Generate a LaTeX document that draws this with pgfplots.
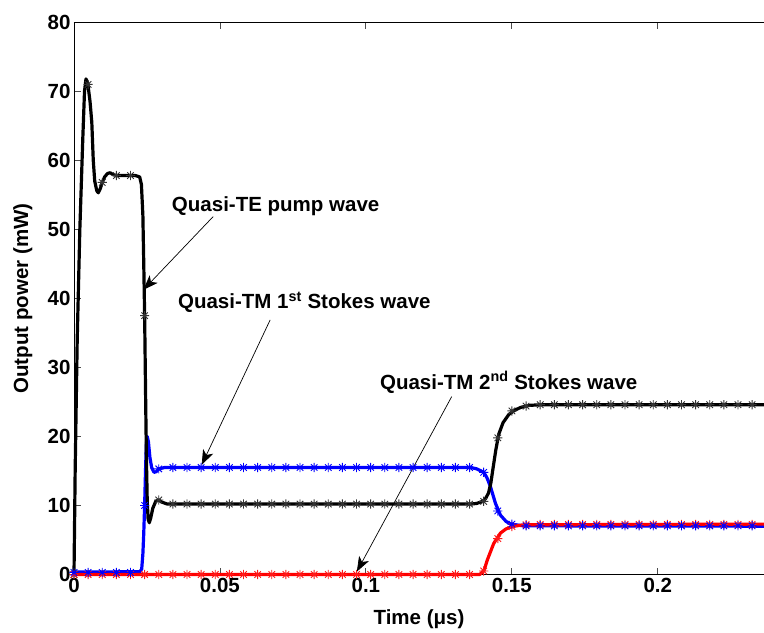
\documentclass[border=0pt]{standalone}
\usepackage{pgfplots}
\pgfplotsset{compat=1.18}
\usepackage{pgfplotstable}
\usepackage{fontspec}
\setmainfont{Liberation Sans}
\usetikzlibrary{arrows.meta}

\pgfdeclareplotmark{mstar}{%
  \pgfpathmoveto{\pgfqpoint{-\pgfplotmarksize}{0pt}}%
  \pgfpathlineto{\pgfqpoint{\pgfplotmarksize}{0pt}}%
  \pgfpathmoveto{\pgfqpoint{0pt}{-\pgfplotmarksize}}%
  \pgfpathlineto{\pgfqpoint{0pt}{\pgfplotmarksize}}%
  \pgfpathmoveto{\pgfqpoint{-0.707\pgfplotmarksize}{-0.707\pgfplotmarksize}}%
  \pgfpathlineto{\pgfqpoint{0.707\pgfplotmarksize}{0.707\pgfplotmarksize}}%
  \pgfpathmoveto{\pgfqpoint{-0.707\pgfplotmarksize}{0.707\pgfplotmarksize}}%
  \pgfpathlineto{\pgfqpoint{0.707\pgfplotmarksize}{-0.707\pgfplotmarksize}}%
  \pgfusepathqstroke}

\pgfplotstableread{
x te tm1 tm2
0 0 0.3 0
0.00484 71.0 0.3 0
0.00968 56.8 0.3 0
0.01452 57.8 0.3 0
0.01936 57.8 0.3 0
0.0242 37.5 10.0 0
0.02904 10.8 15.3 0
0.03388 10.2 15.5 0
0.03872 10.2 15.5 0
0.04356 10.2 15.5 0
0.0484 10.2 15.5 0
0.05324 10.2 15.5 0
0.05808 10.2 15.5 0
0.06292 10.2 15.5 0
0.06776 10.2 15.5 0
0.0726 10.2 15.5 0
0.07744 10.2 15.5 0
0.08228 10.2 15.5 0
0.08712 10.2 15.5 0
0.09196 10.2 15.5 0
0.0968 10.2 15.5 0
0.10164 10.2 15.5 0
0.10648 10.2 15.5 0
0.11132 10.2 15.5 0
0.11616 10.2 15.5 0
0.121 10.2 15.5 0
0.12584 10.2 15.5 0
0.13068 10.2 15.5 0
0.13552 10.2 15.5 0
0.14036 10.6 14.8 0.5
0.1452 19.8 9.2 5.2
0.15004 23.7 7.3 6.95
0.15488 24.4 7.05 7.2
0.15972 24.6 7.05 7.25
0.16456 24.6 7.05 7.25
0.1694 24.6 7.05 7.25
0.17424 24.6 7.05 7.25
0.17908 24.6 7.05 7.25
0.18392 24.6 7.05 7.25
0.18876 24.6 7.05 7.25
0.1936 24.6 7.05 7.25
0.19844 24.6 7.05 7.25
0.20328 24.6 7.05 7.25
0.20812 24.6 7.05 7.25
0.21296 24.6 7.05 7.25
0.2178 24.6 7.05 7.25
0.22264 24.6 7.05 7.25
0.22748 24.6 7.05 7.25
0.23232 24.6 7.05 7.25
}\markers

\newcommand{\lbl}{\fontsize{20.5}{20.5}\selectfont\bfseries}

\begin{document}
\begin{tikzpicture}
\begin{axis}[
  name=ax,
  scale only axis,
  width=690pt, height=552.2pt,
  xmin=0, xmax=0.2364, ymin=0, ymax=80,
  axis x line*=box, axis y line*=left,
  axis line style={line width=0.8pt},
  xtick={0,0.05,0.1,0.15,0.2},
  xticklabels={0,0.05,0.1,0.15,0.2},
  ytick={0,10,20,30,40,50,60,70,80},
  yticklabels={0,10,20,30,40,50,60,70,80},
  tick align=inside, major tick length=7pt,
  tick style={line width=0.8pt, black!70},
  ticklabel style={font=\lbl},
  xlabel={Time (μs)}, ylabel={Output power (mW)},
  label style={font=\lbl},
  xlabel style={at={(axis description cs:0.5,-0.0806)}, anchor=center},
  ylabel style={at={(axis description cs:-0.0740,0.5)}, anchor=center},
  clip=false,
]
% Quasi-TM 1st Stokes (blue)
\addplot[blue, line width=3.2pt, line join=round] coordinates {
(0,0.35)(0.0226,0.4)(0.0232,0.8)(0.0236,3)(0.0239,6)(0.0242,10)(0.0245,15)(0.0248,19)(0.0251,20)(0.0255,19.2)(0.026,17)(0.0266,15.5)(0.0274,14.8)(0.0282,14.9)(0.029,15.3)(0.031,15.5)(0.136,15.5)(0.138,15.3)(0.1404,14.8)(0.1415,14.0)(0.1427,12.7)(0.1444,10.3)(0.1461,8.6)(0.148,7.7)(0.1496,7.3)(0.154,7.05)(0.2364,7.0)};
% Quasi-TM 2nd Stokes (red)
\addplot[red, line width=3.2pt, line join=round] coordinates {
(0,0)(0.139,0)(0.1405,0.6)(0.1416,2.1)(0.1438,4.5)(0.1461,6.0)(0.148,6.6)(0.1501,6.95)(0.154,7.2)(0.2364,7.3)};
% Quasi-TE pump (black)
\addplot[black, line width=3.2pt, line join=round] coordinates {
(0,0)(0.0004,15)(0.0011,34)(0.002,50)(0.003,63)(0.0036,70)(0.0041,71.8)(0.0047,71.2)(0.0055,68.5)(0.0061,65.5)(0.0066,60)(0.0071,57)(0.0078,55.6)(0.0083,55.3)(0.009,55.9)(0.0097,56.8)(0.0105,57.6)(0.0115,58.1)(0.0124,58.2)(0.0135,57.9)(0.015,57.8)(0.018,57.8)(0.021,57.8)(0.0225,57.6)(0.0231,56.5)(0.0236,52)(0.0239,45)(0.0242,37.5)(0.0245,27)(0.0248,17)(0.0251,10.5)(0.0254,8)(0.0258,7.5)(0.0263,8.2)(0.027,9.6)(0.028,10.6)(0.029,10.8)(0.030,10.5)(0.032,10.2)(0.136,10.2)(0.138,10.3)(0.140,10.6)(0.141,11.0)(0.142,11.8)(0.1428,13.2)(0.1436,15.5)(0.1445,18.0)(0.1455,20.3)(0.147,22.0)(0.149,23.2)(0.151,23.8)(0.153,24.2)(0.156,24.5)(0.16,24.6)(0.2364,24.6)};
% markers
\addplot[only marks, mark=mstar, mark size=4.6pt, black!80, mark options={line width=0.9pt}] table[x=x, y=te] {\markers};
\addplot[only marks, mark=mstar, mark size=4.6pt, red!90, mark options={line width=0.9pt}] table[x=x, y=tm2] {\markers};
\addplot[only marks, mark=mstar, mark size=4.6pt, blue, mark options={line width=0.9pt}] table[x=x, y=tm1] {\markers};

% annotations
\draw[line width=0.7pt, -{Stealth[length=15pt, width=11pt, inset=4pt]}] (axis cs:0.0477,51.86) -- (axis cs:0.02375,41.23);
\node[anchor=base west, inner sep=0pt, font=\lbl] at (axis cs:0.0335,52.58) {Quasi-TE pump wave};
\draw[line width=0.7pt, -{Stealth[length=15pt, width=11pt, inset=4pt]}] (axis cs:0.0672,36.88) -- (axis cs:0.04375,15.87);
\node[anchor=base west, inner sep=0pt, font=\lbl] at (axis cs:0.0356,38.5) {Quasi-TM 1\textsuperscript{st} Stokes wave};
\draw[line width=0.7pt, -{Stealth[length=15pt, width=11pt, inset=4pt]}] (axis cs:0.1294,25.77) -- (axis cs:0.0969,0.41);
\node[anchor=base west, inner sep=0pt, font=\lbl] at (axis cs:0.1048,26.8) {Quasi-TM 2\textsuperscript{nd} Stokes wave};
\end{axis}
\pgfresetboundingbox
\path[use as bounding box] ([xshift=-74pt,yshift=-58.5pt]ax.south west) rectangle ([yshift=22.3pt]ax.north east);
\end{tikzpicture}
\end{document}
